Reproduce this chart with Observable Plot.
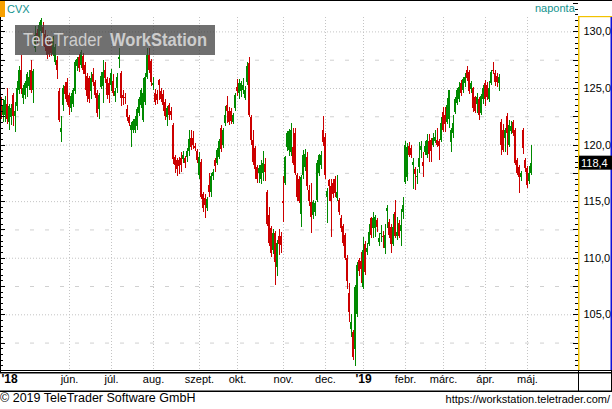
<!DOCTYPE html>
<html><head><meta charset="utf-8">
<script src="https://cdn.jsdelivr.net/npm/d3@7"></script>
<script src="https://cdn.jsdelivr.net/npm/@observablehq/plot@0.6"></script>
<style>html,body{margin:0;padding:0;background:#fff}svg{display:block}</style>
</head><body><div id="chart"></div>
<script>
// Daily candles, CVX, mid-April 2018 .. 2 May 2019 (index = trading day)
const opens = [123.5,122.6,122.6,123.6,122.0,122.4,124.4,122.5,123.4,124.8,126.6,124.1,124.4,125.0,125.2,126.6,124.8,128.5,129.9,129.5,
130.0,130.4,129.8,129.4,129.0,129.1,128.0,127.3,127.5,124.7,121.1,123.5,125.2,125.5,124.4,123.2,123.6,124.7,126.9,127.7,
127.0,127.8,127.0,126.1,125.9,124.7,126.2,125.5,124.6,123.1,125.1,125.2,126.6,125.8,125.4,125.3,125.6,124.3,125.0,127.6,
126.3,124.4,124.2,123.1,122.4,121.3,121.3,121.3,121.6,122.8,123.5,122.2,123.8,126.0,127.9,127.4,125.3,124.6,124.5,125.7,
124.7,124.5,123.8,122.4,123.5,123.0,121.7,118.9,118.6,118.6,118.8,118.7,118.8,118.9,119.4,120.6,120.6,119.9,119.4,117.3,
118.5,115.6,115.3,114.4,116.4,115.8,117.2,118.6,118.4,118.9,121.5,120.0,121.9,123.5,123.0,123.0,122.0,123.2,125.1,124.6,
124.7,124.8,124.1,125.5,127.2,122.4,120.4,119.7,118.0,117.5,117.0,117.5,118.3,115.8,113.8,112.6,110.7,112.2,109.2,111.9,
111.9,115.0,116.6,119.8,119.5,119.3,119.8,121.0,117.3,117.0,113.9,117.3,118.0,118.9,116.0,114.9,113.8,114.0,115.1,117.5,
118.2,121.3,120.7,115.4,116.9,116.3,116.6,117.0,115.3,115.1,113.5,112.8,112.0,110.0,106.9,103.7,103.4,101.9,105.0,109.8,
109.7,107.4,111.2,110.5,111.2,113.5,112.6,112.6,113.3,111.4,112.1,111.9,110.9,114.1,113.2,112.7,111.2,114.0,111.9,113.1,
112.4,114.0,116.7,117.1,119.9,119.7,118.2,117.8,117.1,118.0,119.5,118.5,119.3,119.1,120.3,120.4,120.0,120.3,120.4,120.3,
120.4,122.9,122.6,122.0,122.3,120.2,121.0,122.9,123.7,124.0,125.4,124.8,125.4,126.6,126.4,124.9,125.0,124.2,123.6,124.0,
122.8,124.0,125.4,125.3,124.0,125.4,126.6,126.3,126.1,125.4,122.0,121.3,120.6,122.5,120.0,121.2,122.0,121.3,118.6,118.0,
117.1,121.3,118.6,117.9,116.8,117.5];
const highs = [124.2,124.0,124.3,125.0,123.6,123.6,124.6,123.8,125.6,126.9,127.9,125.3,125.6,126.4,126.6,127.5,126.7,130.5,130.2,130.8,
131.2,130.8,130.1,129.7,129.3,129.4,129.6,128.9,127.8,125.0,122.5,125.3,125.5,125.9,124.6,124.6,125.0,127.5,127.7,128.0,
128.4,128.1,127.3,126.3,126.1,126.4,126.8,125.7,124.8,124.6,126.4,127.5,127.3,126.0,125.9,126.7,126.2,125.0,126.3,128.5,
126.5,124.8,124.6,123.5,122.6,122.0,122.3,122.5,123.3,124.2,125.0,125.9,126.3,128.5,128.5,127.6,126.0,124.9,124.8,125.8,
125.0,124.8,124.0,123.4,123.7,123.3,121.9,119.1,118.8,118.9,119.3,119.4,119.0,119.7,121.3,121.3,121.2,120.1,119.6,119.3,
118.7,115.8,115.6,115.4,117.5,117.5,117.8,118.8,119.7,120.5,121.7,121.5,123.4,124.3,123.3,123.2,122.8,124.6,125.8,125.8,
125.6,125.9,125.2,127.3,127.7,122.6,121.3,119.9,118.2,118.2,118.6,119.4,118.8,116.0,114.5,112.8,112.5,112.4,111.6,112.5,
112.3,117.2,119.0,121.2,121.4,121.9,121.5,121.5,117.5,117.2,117.3,119.5,119.6,119.3,116.4,116.6,115.1,115.0,118.6,119.2,
119.4,122.5,121.0,116.2,117.0,117.0,117.0,117.2,117.3,115.3,113.8,113.0,112.2,110.2,107.8,105.0,103.6,107.6,109.6,110.0,
110.5,111.8,111.5,111.3,113.0,113.6,114.0,113.8,113.5,112.2,112.9,112.4,113.0,114.7,113.4,113.0,113.9,115.1,113.6,113.3,
114.3,115.4,120.3,120.1,120.2,120.0,118.8,118.0,117.8,120.2,120.3,119.3,120.3,120.9,120.9,120.6,121.0,121.3,121.5,120.5,
122.4,123.3,123.3,124.1,124.8,121.5,122.6,124.2,125.0,125.5,125.7,126.0,126.3,126.9,126.6,125.6,125.1,124.3,124.6,124.2,
124.5,125.3,125.7,125.5,125.6,126.6,127.3,126.6,126.3,126.2,122.3,121.8,121.5,122.8,122.2,122.1,122.2,121.5,118.8,118.2,
117.7,121.5,118.8,118.1,118.1,120.0];
const lows = [122.3,122.0,122.0,121.8,121.3,121.7,121.6,121.1,123.0,124.5,124.5,123.6,124.0,124.2,124.8,124.6,123.7,128.2,129.0,129.2,
129.6,128.7,128.3,127.6,127.7,127.8,127.8,127.0,125.8,122.0,120.2,123.0,124.0,123.5,122.6,122.9,123.3,124.5,126.5,126.4,
126.8,126.2,124.8,123.8,123.7,124.0,125.2,124.1,122.4,122.3,124.9,123.7,125.4,124.0,123.7,124.7,124.3,123.8,124.6,126.8,
123.4,123.5,123.6,122.1,121.6,119.8,121.0,121.0,121.3,122.5,123.2,122.0,123.5,125.8,126.3,125.2,124.8,123.5,123.6,123.9,
123.8,123.0,122.2,121.6,122.2,122.2,118.3,117.5,117.2,117.4,117.6,118.4,117.9,118.5,119.0,119.5,119.6,119.4,118.4,117.0,
115.2,114.0,113.5,114.1,115.4,115.4,116.9,117.6,118.2,118.7,119.3,119.7,121.6,121.9,121.7,121.8,121.8,123.0,124.3,124.0,
124.2,124.5,123.9,125.3,122.4,120.0,118.2,117.0,116.6,116.6,116.5,116.8,116.8,112.8,111.0,110.1,110.3,107.6,108.4,110.2,
110.4,113.2,116.4,119.4,119.0,119.0,118.2,117.3,115.0,114.8,112.7,117.0,117.7,116.0,114.6,112.2,113.4,113.7,114.9,117.2,
117.8,119.9,117.0,113.1,115.0,111.8,115.3,115.4,115.0,113.8,112.3,111.0,109.8,107.2,104.3,103.0,101.0,100.4,104.8,108.4,
107.8,107.2,108.5,110.2,111.0,111.7,111.7,111.8,112.3,111.0,111.4,110.9,110.3,112.6,111.7,110.4,111.0,111.7,111.6,111.7,
111.0,113.4,116.5,116.8,118.9,118.8,116.1,116.0,116.5,117.5,118.8,117.1,119.1,118.8,118.5,118.5,119.8,120.1,119.8,118.6,
120.2,121.1,121.1,121.8,121.5,119.3,120.6,122.7,123.5,123.8,124.3,124.6,125.1,125.6,124.5,124.6,122.9,122.8,122.8,122.2,
122.6,123.6,123.4,123.9,123.8,125.3,126.2,125.2,125.1,124.7,119.1,119.3,119.3,119.1,119.8,120.9,120.8,118.2,117.3,115.7,
116.8,119.2,117.6,116.2,116.5,117.3];
const closes = [122.8,123.4,123.9,122.3,123.4,123.2,122.5,123.0,125.0,126.6,124.9,125.0,125.4,126.2,126.0,124.8,126.5,129.7,129.4,130.6,
131.0,129.0,128.6,127.9,128.0,128.1,129.4,128.6,126.6,122.2,121.5,125.0,124.5,123.8,123.3,124.3,124.8,127.3,127.6,126.8,
128.2,126.6,126.2,124.3,124.0,125.9,125.5,124.4,122.8,124.4,126.1,126.4,125.9,124.4,124.4,126.3,124.6,124.7,126.0,127.7,
124.1,124.1,124.1,122.4,121.9,121.7,122.1,122.3,123.1,124.0,124.8,124.6,126.0,127.9,126.6,125.5,125.4,123.8,123.9,125.3,
124.0,123.5,122.5,123.2,122.6,122.6,118.7,118.2,117.8,118.1,118.2,119.1,118.4,119.4,120.5,119.8,120.0,119.7,118.6,118.9,
115.4,114.4,114.7,115.2,115.8,117.2,117.6,118.1,119.5,120.3,119.6,121.3,122.6,123.0,122.0,122.1,122.6,124.4,124.7,125.4,
125.4,125.3,124.8,126.9,122.6,120.4,118.5,117.8,117.0,117.9,118.2,118.4,117.6,113.0,111.3,110.4,112.2,109.6,111.3,111.2,
111.1,114.8,118.9,121.0,121.2,121.3,118.4,117.5,115.4,115.0,117.1,119.1,119.2,116.3,115.0,113.6,114.9,114.8,118.4,119.1,
119.1,120.2,117.3,115.9,116.3,115.0,115.6,115.7,115.8,114.0,112.6,111.3,110.0,107.9,105.2,104.3,101.2,107.4,109.4,108.8,
109.0,110.7,108.7,110.9,112.3,112.0,113.5,113.6,112.7,111.7,112.2,111.8,112.0,114.4,112.0,111.2,112.7,111.9,112.3,111.9,
112.9,114.7,120.0,119.8,119.1,119.1,118.5,117.4,117.2,118.8,119.9,118.1,119.9,120.4,119.2,119.4,120.6,120.7,120.0,119.9,
121.9,121.3,121.8,123.5,124.8,121.3,121.9,124.0,124.8,125.1,124.6,125.8,126.0,125.9,124.7,125.4,123.2,123.0,124.2,122.6,
124.3,125.0,124.0,124.2,125.0,126.4,126.5,125.5,125.5,126.0,120.0,119.5,121.3,121.0,121.7,121.6,121.0,118.4,117.5,117.1,
117.5,119.7,117.9,116.4,117.5,118.4];

// axis text
const monthStarts = [34,55,76,99,118,141,162,181,202,221,242,263];
const monthLabels = ["jún.","júl.","aug.","szept.","okt.","nov.","dec.","'19","febr.","márc.","ápr.","máj."];
const firstLabel = "'18";
const yTicks = [105,110,115,120,125,130];
const yTickLabels = ["105,0","110,0","115,0","120,0","125,0","130,0"];
const yHalfTicks = [102.5,107.5,112.5,117.5,122.5,127.5];
const lastLabel = "118,4";

const GREEN = "#008a00", RED = "#cc0000", GRID = "#c4c4c4";

const candles = closes.map((c, i) => {
  const o = opens[i];
  const lo = Math.min(o, c), hi = Math.max(o, c, Math.min(o, c) + 0.09);
  return {i, o, h: highs[i], l: lows[i], c, b1: lo, b2: hi, up: c >= o};
});
const ups = candles.filter(d => d.up), downs = candles.filter(d => !d.up);
const ruler = d3.range(100.5, 133, 0.5);
const isMajor = v => Math.abs(v / 2.5 - Math.round(v / 2.5)) < 1e-6;
const monthRows = monthStarts.map((m, k) => ({m, t: monthLabels[k], bold: monthLabels[k].startsWith("'")}));

const plot = Plot.plot({
  width: 612, height: 409,
  marginTop: 0, marginLeft: 0, marginRight: 34, marginBottom: 39,
  x: {domain: [-0.5, 288.5], axis: null},
  y: {domain: [100.078, 132.775], axis: null},
  style: {background: "white", fontFamily: "'Liberation Sans', Arial, sans-serif", fontSize: "11px", color: "#000", overflow: "visible"},
  marks: [
    Plot.ruleY(yTicks, {stroke: GRID, strokeDasharray: "1,2"}),
    Plot.ruleY(yHalfTicks, {stroke: "#d0d0d0", strokeDasharray: "4,11"}),
    Plot.ruleX(monthStarts, {y1: 131.27, y2: 100.078, stroke: GRID, strokeDasharray: "1,2"}),
    Plot.ruleX(ups, {x: "i", y1: "l", y2: "h", stroke: GREEN, shapeRendering: "crispEdges"}),
    Plot.ruleX(downs, {x: "i", y1: "l", y2: "h", stroke: RED, shapeRendering: "crispEdges"}),
    Plot.rect(ups, {x1: d => d.i - 0.5, x2: d => d.i + 0.5, y1: "b1", y2: "b2", fill: GREEN, shapeRendering: "crispEdges"}),
    Plot.rect(downs, {x1: d => d.i - 0.5, x2: d => d.i + 0.5, y1: "b1", y2: "b2", fill: RED, shapeRendering: "crispEdges"}),
    // left and right rulers
    Plot.ruleY(ruler, {x1: -0.5, x2: d => isMajor(d) ? 2 : 1, stroke: "#000", shapeRendering: "crispEdges"}),
    Plot.ruleY(ruler, {x1: d => isMajor(d) ? 286 : 287, x2: 288.5, stroke: "#000", shapeRendering: "crispEdges"}),
    Plot.text(yTicks, {y: d => d, text: (d, k) => yTickLabels[k], frameAnchor: "right", dx: 5, textAnchor: "start", fill: "#000", fontSize: 11}),
    Plot.text(monthRows.filter(d => !d.bold), {x: "m", text: "t", frameAnchor: "bottom", dy: 12, fill: "#000", fontSize: 11}),
    Plot.text(monthRows.filter(d => d.bold), {x: "m", text: "t", frameAnchor: "bottom", dy: 12, fill: "#000", fontSize: 12, fontWeight: "bold"}),
    Plot.text([firstLabel], {x: -0.5, text: d => d, frameAnchor: "bottom", dy: 12, dx: 1, textAnchor: "start", fill: "#000", fontSize: 12, fontWeight: "bold"})
  ]
});

document.getElementById("chart").appendChild(plot);
const svg = d3.select(plot);
const ys = plot.scale("y");
const add = (x, y, w, h, fill) => svg.append("rect").attr("x", x).attr("y", y).attr("width", w).attr("height", h).attr("fill", fill);

// frame
add(0, 0, 612, 1, "#000");
add(0, 0, 1, 372, "#000");
add(0, 370, 612, 1, "#000");
add(0, 372, 612, 1.5, "#000");
add(0, 390.5, 612, 1.5, "#000");
add(578, 17, 1.5, 353, "#f2c200");
add(578, 16, 34, 1.2, "#f2c200");
add(610.5, 17, 1.5, 353, "#1010d8");
add(578, 370, 1, 21, "#000");
add(611, 370, 1, 21, "#000");

// header
add(0, 1, 5, 16, "#f7a000");
const txt = (x, y, s, size, fill, anchor, weight) => svg.append("text").attr("x", x).attr("y", y)
  .attr("font-family", "'Liberation Sans', Arial, sans-serif").attr("font-size", size)
  .attr("fill", fill).attr("text-anchor", anchor || "start").attr("font-weight", weight || "normal").text(s);
txt(7, 13, "CVX", 11, "#12928e");
txt(535, 12, "naponta", 11, "#12928e");

// watermark
svg.append("rect").attr("x", 15).attr("y", 25).attr("width", 200).attr("height", 30).attr("fill", "#404040").attr("fill-opacity", 0.75);
txt(23, 46, "TeleTrader", 19, "#cdcdcd").attr("textLength", 79).attr("lengthAdjust", "spacingAndGlyphs");
txt(110, 46, "WorkStation", 19, "#cdcdcd", "start", "bold").attr("textLength", 97).attr("lengthAdjust", "spacingAndGlyphs");

// last price box
const yl = ys.apply(closes[closes.length - 1]);
add(579, yl - 7, 33, 14, "#000");
txt(581, yl + 4, lastLabel, 11, "#fff");

// footer
txt(0, 402, "© 2019 TeleTrader Software GmbH", 12.5, "#000");
txt(610, 403, "https://workstation.teletrader.com/", 11, "#000", "end");
</script></body></html>
